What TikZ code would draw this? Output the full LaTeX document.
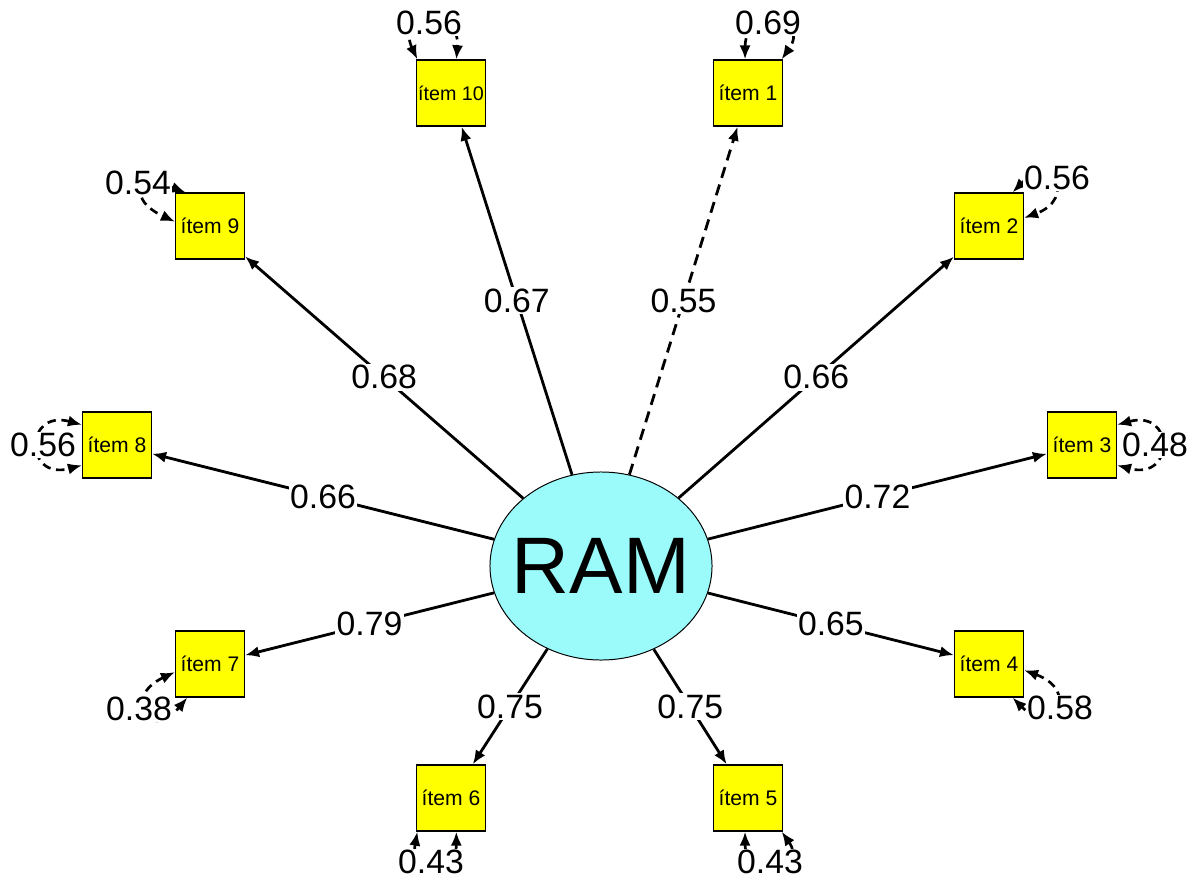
\documentclass[tikz,border=0pt]{standalone}
\usepackage{fontspec}
\setmainfont{Liberation Sans}
\usetikzlibrary{positioning,arrows.meta,shapes.geometric}
\definecolor{ramcyan}{RGB}{155,250,250}
\definecolor{itemyellow}{RGB}{255,255,0}

\begin{document}
\begin{tikzpicture}[
    x=0.025cm,
    y=-0.025cm,
    latent/.style={
        ellipse,
        draw,
        line width=0.7pt,
        fill=ramcyan,
        minimum width=5.55cm,
        minimum height=4.7cm,
        inner sep=0pt,
        font=\fontsize{57}{60}\selectfont
    },
    item/.style={
        draw,
        line width=0.9pt,
        fill=itemyellow,
        minimum width=1.72cm,
        minimum height=1.65cm,
        inner sep=0pt,
        font=\fontsize{15}{17}\selectfont
    },
    load/.style={
        -{Latex[length=10pt,width=8pt]},
        line width=2pt
    },
    resid/.style={
        {Latex[length=10pt,width=8pt]}-{Latex[length=10pt,width=8pt]},
        line width=1.9pt,
        dash pattern=on 6pt off 4pt
    },
    lab/.style={
        fill=white,
        inner sep=1pt,
        font=\fontsize{24}{26}\selectfont
    }
]
\useasboundingbox (0,0) rectangle (1196,881);

\node[latent] (ram) at (601,566) {\makebox[0pt]{RAM}};

\node[item] (i10) at (451,93) {\fontsize{14}{16}\selectfont ítem 10};
\node[item] (i1) at (748,93) {ítem 1};
\node[item] (i9) at (210,226) {ítem 9};
\node[item] (i2) at (989,226) {ítem 2};
\node[item] (i8) at (117,445) {ítem 8};
\node[item] (i3) at (1082,445) {ítem 3};
\node[item] (i7) at (210,664) {ítem 7};
\node[item] (i4) at (989,664) {ítem 4};
\node[item] (i6) at (451,798) {ítem 6};
\node[item] (i5) at (748,798) {ítem 5};

% loadings
\draw[load] (ram) -- node[lab]{0.67} (i10);
\draw[load, dash pattern=on 8pt off 5pt] (ram) -- node[lab]{0.55} (i1);
\draw[load] (ram) -- node[lab]{0.68} (i9);
\draw[load] (ram) -- node[lab]{0.66} (i2);
\draw[load] (ram) -- node[lab]{0.66} (i8);
\draw[load] (ram) -- node[lab]{0.72} (i3);
\draw[load] (ram) -- node[lab]{0.79} (i7);
\draw[load] (ram) -- node[lab]{0.65} (i4);
\draw[load] (ram) -- node[lab]{0.75} (i6);
\draw[load] (ram) -- node[lab]{0.75} (i5);

% residual variances
\draw[resid] (i10.135) to[out=115, in=85, distance=1.3cm] (i10.81);
\draw[resid] (i1.95) to[out=90, in=55, distance=1.3cm] (i1.45);
\draw[resid] (i9.126) to[out=160, in=155, distance=1.3cm] (i9.173);
\draw[resid] (i2.55) to[out=45, in=20, distance=1.4cm] (i2.13);
\draw[resid] (i8.150) to[out=165, in=195, distance=1.5cm] (i8.210);
\draw[resid] (i3.30) to[out=15, in=-15, distance=1.5cm] (i3.-30);
\draw[resid] (i7.193) to[out=205, in=230, distance=1.5cm] (i7.236);
\draw[resid] (i4.-10) to[out=-20, in=-45, distance=1.5cm] (i4.-55);
\draw[resid] (i6.225) to[out=260, in=270, distance=1.2cm] (i6.-81);
\draw[resid] (i5.-95) to[out=-90, in=-55, distance=1.2cm] (i5.-45);

\node[lab] (r10) at (429,23) {0.56};
\node[lab] (r1) at (768,23) {0.69};
\node[lab] (r9) at (138,183) {0.54};
\node[lab] (r2) at (1057,178) {0.56};
\node[lab] (r8) at (43,445) {0.56};
\node[lab] (r3) at (1155,445) {0.48};
\node[lab] (r7) at (139,709) {0.38};
\node[lab] (r4) at (1060,708) {0.58};
\node[lab] (r6) at (431,862) {0.43};
\node[lab] (r5) at (770,862) {0.43};

\end{tikzpicture}
\end{document}
